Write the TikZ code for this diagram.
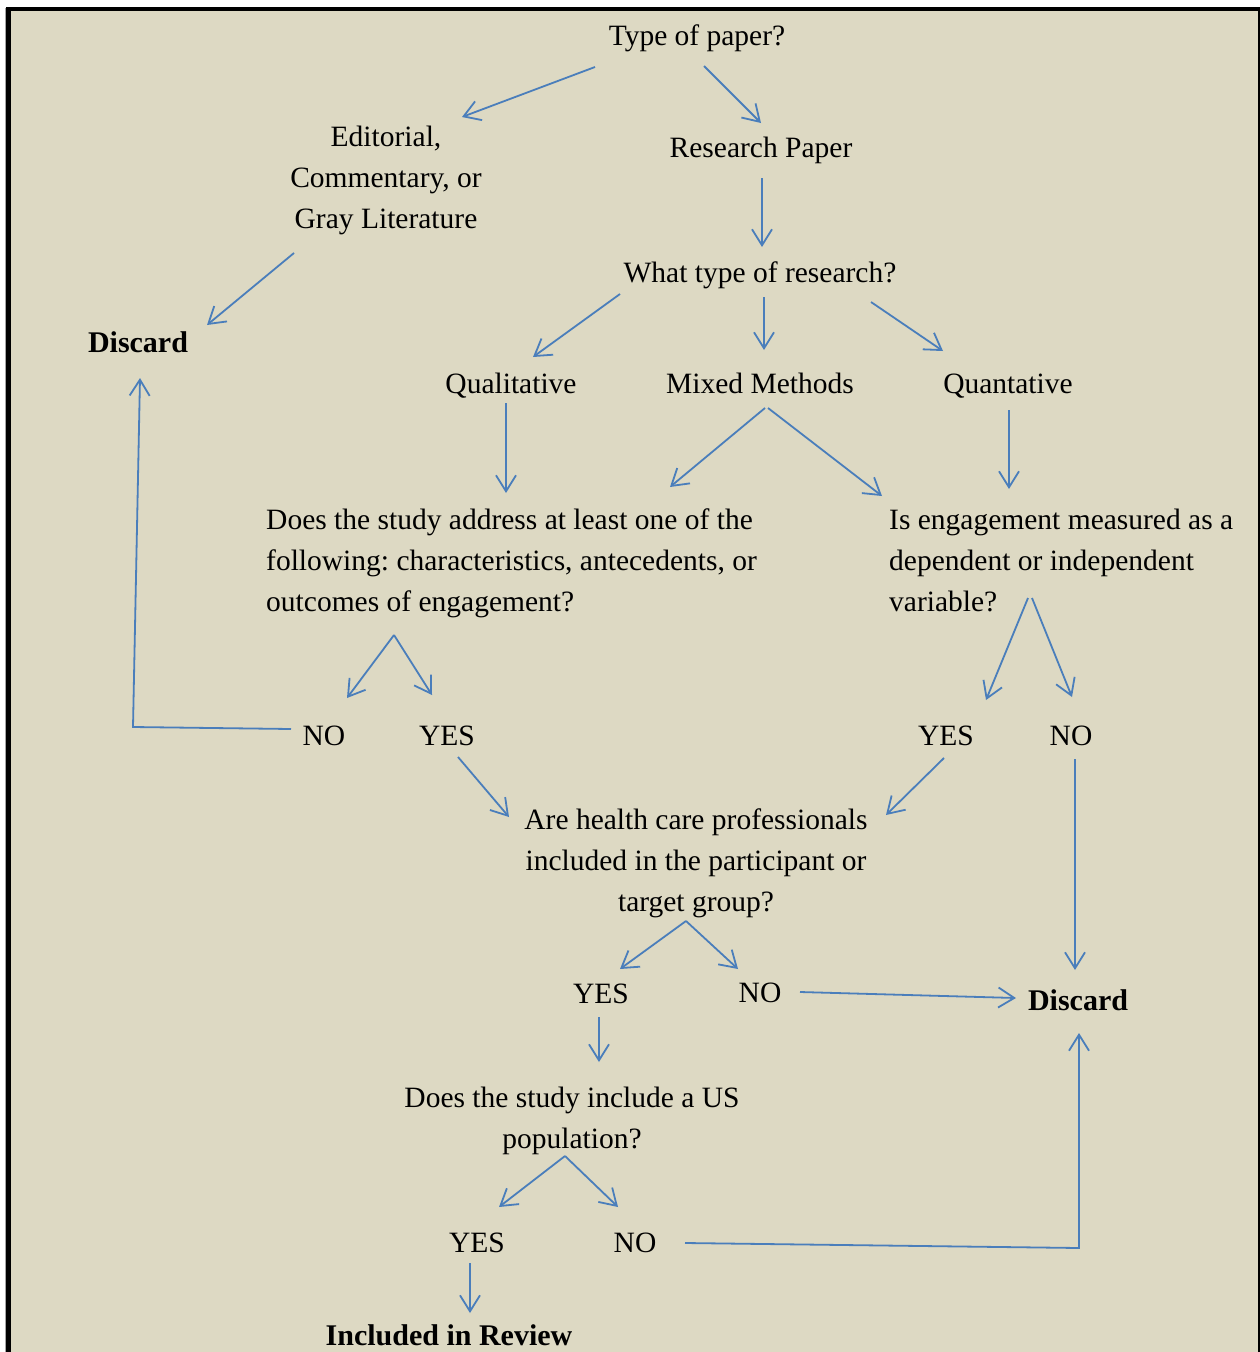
\documentclass[tikz,border=0pt]{standalone}
\usepackage{fontspec}
\setmainfont{Liberation Serif}
\usetikzlibrary{arrows.meta}
\definecolor{paper}{RGB}{221,217,195}
\definecolor{link}{RGB}{74,126,187}
\frenchspacing

\begin{document}
\begin{tikzpicture}[x=1pt,y=-1pt,
  txt/.style={font=\fontsize{29.5}{41}\selectfont, inner sep=0pt},
  bold/.style={inner sep=0pt, font=\fontsize{30}{41}\selectfont\bfseries},
  ln/.style={draw=link, line width=1.8pt},
  arr/.style={ln, -{Straight Barb[length=16pt,width=20pt,line width=1.8pt]}}]

% page, panel and frame
\useasboundingbox (0,0) rectangle (1260,1352);
\fill[white] (0,0) rectangle (1260,1352);
\fill[paper] (11,11) rectangle (1258,1352);
\fill[black] (6,7) rectangle (1260,11);
\fill[black] (6,7) rectangle (11,1352);
\fill[black] (1258.3,7) rectangle (1260,1352);
\draw[black!35, line width=0.8pt] (5,8) -- (5,1352);

% text blocks
\node[txt, anchor=base] (paperq) at (697,45) {Type of paper?};
\node[txt, anchor=north, align=center] (edit) at (386,117.3)
  {\strut Editorial,\\Commentary, or\\Gray Literature};
\node[txt, anchor=base] (research) at (761,157) {Research Paper};
\node[txt, anchor=base] (what) at (760,282) {What type of research?};
\node[bold, anchor=base] (discA) at (138,352) {Discard};
\node[txt, anchor=base] (qual) at (511,393) {Qualitative};
\node[txt, anchor=base] (mixed) at (760,393) {Mixed Methods};
\node[txt, anchor=base] (quant) at (1008,393) {Quantative};
\node[txt, anchor=north west, align=left] (address) at (266,500.3)
  {\strut Does the study address at least one of the\\following: characteristics, antecedents, or\\outcomes of engagement?};
\node[txt, anchor=north west, align=left] (measured) at (889,500.3)
  {\strut Is engagement measured as a\\dependent or independent\\variable?};
\node[txt, anchor=base] (noA) at (324,745) {NO};
\node[txt, anchor=base] (yesA) at (447,745) {YES};
\node[txt, anchor=base] (yesB) at (946,745) {YES};
\node[txt, anchor=base] (noB) at (1071,745) {NO};
\node[txt, anchor=north, align=center] (hcp) at (696,800.3)
  {\strut Are health care professionals\\included in the participant or\\target group?};
\node[txt, anchor=base] (yesC) at (601,1003) {YES};
\node[txt, anchor=base] (noC) at (760,1002) {NO};
\node[bold, anchor=base] (discB) at (1078,1010) {Discard};
\node[txt, anchor=north, align=center] (us) at (572,1078.3)
  {\strut Does the study include a US\\population?};
\node[txt, anchor=base] (yesD) at (477,1252) {YES};
\node[txt, anchor=base] (noD) at (635,1252) {NO};
\node[bold, anchor=base] (incl) at (449,1345) {Included in Review};

% connector end points
\coordinate (paperL) at (595,67);   \coordinate (editIn) at (462,117);
\coordinate (paperR) at (704,66);   \coordinate (resIn) at (761,123);
\coordinate (editOut) at (294,253); \coordinate (discAin) at (207,325);
\coordinate (resOut) at (762,178);  \coordinate (whatIn) at (762,247);
\coordinate (whatL) at (620,294);   \coordinate (qualIn) at (533,357);
\coordinate (whatM) at (764,297);   \coordinate (mixedIn) at (764,350);
\coordinate (whatR) at (871,302);   \coordinate (quantIn) at (943,351);
\coordinate (qualOut) at (506,403); \coordinate (addrInA) at (506,493);
\coordinate (mixedL) at (765,408);  \coordinate (addrInB) at (670,487);
\coordinate (mixedR) at (768,408);  \coordinate (measInA) at (882,496);
\coordinate (quantOut) at (1009,410); \coordinate (measInB) at (1009,489);
\coordinate (addrFork) at (394,635);
\coordinate (noAin) at (347,698);   \coordinate (yesAin) at (432,695);
\coordinate (measL) at (1028,598);  \coordinate (yesBin) at (986,700);
\coordinate (measR) at (1032,598);  \coordinate (noBin) at (1072,697);
\coordinate (noAout) at (291,729);  \coordinate (noAcorner) at (133,727);
\coordinate (discAup) at (140,378);
\coordinate (yesAout) at (458,757); \coordinate (hcpInA) at (509,817);
\coordinate (yesBout) at (944,758); \coordinate (hcpInB) at (886,815);
\coordinate (noBout) at (1075,759); \coordinate (discBtop) at (1075,970);
\coordinate (hcpFork) at (686,921);
\coordinate (yesCin) at (620,969);  \coordinate (noCin) at (738,969);
\coordinate (noCout) at (800,992);  \coordinate (discBleft) at (1016,998);
\coordinate (yesCout) at (599,1017); \coordinate (usIn) at (599,1062);
\coordinate (usFork) at (565,1156);
\coordinate (yesDin) at (499,1207); \coordinate (noDin) at (618,1207);
\coordinate (noDout) at (685,1243); \coordinate (noDcorner) at (1079,1248);
\coordinate (discBbot) at (1079,1033);
\coordinate (yesDout) at (470,1263); \coordinate (inclIn) at (470,1313);

% connectors
\draw[arr] (paperL) -- (editIn);
\draw[arr] (paperR) -- (resIn);
\draw[arr] (editOut) -- (discAin);
\draw[arr] (resOut) -- (whatIn);
\draw[arr] (whatL) -- (qualIn);
\draw[arr] (whatM) -- (mixedIn);
\draw[arr] (whatR) -- (quantIn);
\draw[arr] (qualOut) -- (addrInA);
\draw[arr] (mixedL) -- (addrInB);
\draw[arr] (mixedR) -- (measInA);
\draw[arr] (quantOut) -- (measInB);
\draw[arr] (addrFork) -- (noAin);
\draw[arr] (addrFork) -- (yesAin);
\draw[arr] (measL) -- (yesBin);
\draw[arr] (measR) -- (noBin);
\draw[arr] (noAout) -- (noAcorner) -- (discAup);
\draw[arr] (yesAout) -- (hcpInA);
\draw[arr] (yesBout) -- (hcpInB);
\draw[arr] (noBout) -- (discBtop);
\draw[arr] (hcpFork) -- (yesCin);
\draw[arr] (hcpFork) -- (noCin);
\draw[arr] (noCout) -- (discBleft);
\draw[arr] (yesCout) -- (usIn);
\draw[arr] (usFork) -- (yesDin);
\draw[arr] (usFork) -- (noDin);
\draw[arr] (noDout) -- (noDcorner) -- (discBbot);
\draw[arr] (yesDout) -- (inclIn);
\end{tikzpicture}
\end{document}
